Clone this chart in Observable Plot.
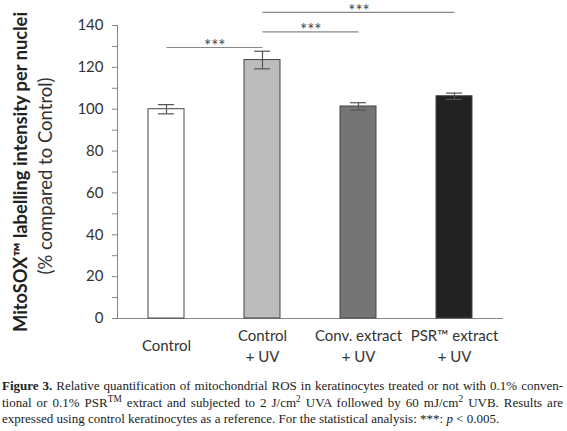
<!DOCTYPE html>
<html>
<head>
<meta charset="utf-8">
<script src="https://cdn.jsdelivr.net/npm/d3@7"></script>
<script src="https://cdn.jsdelivr.net/npm/@observablehq/plot@0.6"></script>
<style>
  html, body { margin: 0; padding: 0; background: #fff; }
  #chart svg { display: block; }
  .cap { width: 561px; margin: 8px 0 0 2px; font-family: "Liberation Serif", serif; font-size: 13px; line-height: 16.5px; color: #222; }
  .cap .l { text-align: justify; text-align-last: justify; white-space: nowrap; }
  .cap sup { font-size: 0.72em; line-height: 0; vertical-align: baseline; position: relative; top: -0.5em; }
</style>
</head>
<body>
<div id="chart"></div>
<div class="cap">
  <div class="l"><b>Figure 3.</b> Relative quantification of mitochondrial ROS in keratinocytes treated or not with 0.1% conven-</div>
  <div class="l">tional or 0.1% PSR<sup>TM</sup> extract and subjected to 2 J/cm<sup>2</sup> UVA followed by 60 mJ/cm<sup>2</sup> UVB. Results are</div>
  <div>expressed using control keratinocytes as a reference. For the statistical analysis: ***: <i>p</i> &lt; 0.005.</div>
</div>
<script>
const categories = ["Control", "Control + UV", "Conv. extract + UV", "PSR extract + UV"];
const tickLabels = ["Control", "Control\n+ UV", "Conv. extract\n+ UV", "PSR™ extract\n+ UV"];
const values = [100, 123.5, 101.3, 106.2];
const errors = [2.2, 4.2, 1.8, 1.5];
const barColors = ["#ffffff", "#bcbcbc", "#757575", "#222222"];
const sigFrom = ["Control", "Control + UV", "Control + UV"];
const sigTo = ["Control + UV", "Conv. extract + UV", "PSR extract + UV"];
const sigY = [129.5, 137, 146.3];
const sigLabels = ["***", "***", "***"];
const yTicks = d3.range(0, 141, 10);
const yLabel1 = "MitoSOX™ labelling intensity per nuclei";
const yLabel2 = "(% compared to Control)";

const data = categories.map((c, i) => ({cat: c, label: tickLabels[i], value: values[i], err: errors[i], color: barColors[i]}));
const sig = sigFrom.map((a, i) => ({a, b: sigTo[i], y: sigY[i], text: sigLabels[i]}));

const width = 567, height = 370;
const marginLeft = 117, marginRight = 64, marginTop = 25, marginBottom = 52;
const step = (width - marginLeft - marginRight) / categories.length;

const sigTextMarks = sig.map(s => Plot.text([s], {
  x: "a", y: "y", text: "text",
  dx: step * (categories.indexOf(s.b) - categories.indexOf(s.a)) / 2,
  dy: -1, lineAnchor: "middle", fontSize: 17, fill: "#444"
}));

const chart = Plot.plot({
  width, height, marginLeft, marginRight, marginTop, marginBottom,
  style: {fontFamily: "Lato, sans-serif", background: "#fff"},
  x: {domain: categories, paddingInner: 0.627, paddingOuter: 0.3135, axis: null},
  y: {domain: [0, 140], axis: null},
  color: {type: "identity"},
  marks: [
    Plot.axisY({ticks: yTicks, tickFormat: d => d % 20 ? "" : d, tickSize: 5, tickPadding: 9,
      fontSize: 15, stroke: "#888", fill: "#333", label: null}),
    Plot.frame({anchor: "left", stroke: "#888"}),
    Plot.ruleY([0], {stroke: "#888"}),
    Plot.barY(data, {x: "cat", y: "value", fill: "color", stroke: "#444", strokeWidth: 1}),
    Plot.ruleX(data, {x: "cat", y1: d => d.value - d.err, y2: d => d.value + d.err, stroke: "#555", strokeWidth: 1.2}),
    Plot.tickY(data, {x: "cat", y: d => d.value + d.err, insetLeft: 10, insetRight: 10, stroke: "#555", strokeWidth: 1.2}),
    Plot.tickY(data, {x: "cat", y: d => d.value - d.err, insetLeft: 10, insetRight: 10, stroke: "#555", strokeWidth: 1.2}),
    Plot.link(sig, {x1: "a", x2: "b", y1: "y", y2: "y", stroke: "#888", strokeWidth: 1.2}),
    ...sigTextMarks,
    Plot.text(data, {x: "cat", text: "label", frameAnchor: "bottom", dy: 26, lineAnchor: "middle",
      lineHeight: 1.45, fontSize: 15, fill: "#333"}),
    Plot.text([yLabel1], {text: d => d, frameAnchor: "left", textAnchor: "middle", rotate: -90, dx: -96, dy: 0,
      fontSize: 18.3, fontWeight: "bold", fill: "#222", lineAnchor: "middle"}),
    Plot.text([yLabel2], {text: d => d, frameAnchor: "left", textAnchor: "middle", rotate: -90, dx: -71, dy: 4,
      fontSize: 18.5, fill: "#333", lineAnchor: "middle"})
  ]
});
document.getElementById("chart").appendChild(chart);
</script>
</body>
</html>
